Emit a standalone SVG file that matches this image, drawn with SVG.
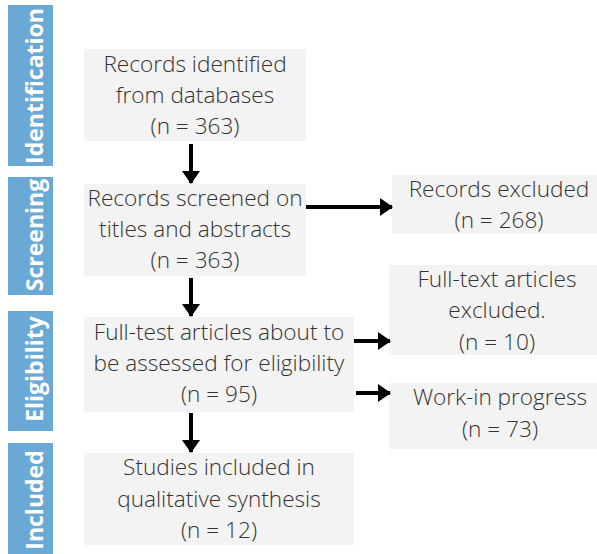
<svg xmlns="http://www.w3.org/2000/svg" width="597" height="554" viewBox="0 0 597 554">
<style>
.lab{fill:#6aa8d6}
.lt{font-family:"Open Sans","Liberation Sans",sans-serif;font-weight:700;font-size:23px;fill:#ffffff;text-anchor:middle}
.box{fill:#f3f3f3}
.t{font-family:"Open Sans","Liberation Sans",sans-serif;font-weight:300;font-size:22.6px;fill:#333333;text-anchor:middle}
.c{stroke:#000;stroke-width:4;fill:none}
</style>
<defs>
<marker id="ah" markerUnits="userSpaceOnUse" markerWidth="13" markerHeight="18" refX="12" refY="9" orient="auto">
<path d="M0,0 L13,9 L0,18 Z" fill="#000"/>
</marker>
</defs>
<g id="stages">
<g id="stage-identification"><rect class="lab" x="8" y="5" width="45" height="161"/><text class="lt" x="43" y="86" transform="rotate(-90 43 86)">Identification</text></g>
<g id="stage-screening"><rect class="lab" x="8" y="177" width="45" height="118"/><text class="lt" x="43" y="235" transform="rotate(-90 43 235)">Screening</text></g>
<g id="stage-eligibility"><rect class="lab" x="8" y="311" width="45" height="120"/><text class="lt" x="43" y="369" transform="rotate(-90 43 369)">Eligibility</text></g>
<g id="stage-included"><rect class="lab" x="8" y="443" width="45" height="111"/><text class="lt" x="43" y="500" transform="rotate(-90 43 500)">Included</text></g>
</g>
<g id="identified"><rect class="box" x="84" y="49" width="222" height="92"/>
<text class="t" x="195" y="72">Records identified</text><text class="t" x="195" y="103">from databases</text><text class="t" x="195" y="134">(n = 363)</text></g>
<g id="screened"><rect class="box" x="84" y="184" width="222" height="92"/>
<text class="t" x="195" y="206">Records screened on</text><text class="t" x="195" y="237">titles and abstracts</text><text class="t" x="195" y="268">(n = 363)</text></g>
<g id="assessed"><rect class="box" x="84" y="317" width="270" height="95"/>
<text class="t" x="219" y="340">Full-test articles about to</text><text class="t" x="219" y="371">be assessed for eligibility</text><text class="t" x="219" y="402">(n = 95)</text></g>
<g id="included"><rect class="box" x="84" y="453" width="270" height="92"/>
<text class="t" x="219" y="475">Studies included in</text><text class="t" x="219" y="507">qualitative synthesis</text><text class="t" x="219" y="538">(n = 12)</text></g>
<g id="excluded"><rect class="box" x="392" y="175" width="205" height="59"/>
<text class="t" x="499" y="197">Records excluded</text><text class="t" x="499" y="228">(n = 268)</text></g>
<g id="fulltext-excluded"><rect class="box" x="389" y="265" width="208" height="90"/>
<text class="t" x="497" y="287">Full-text articles</text><text class="t" x="497" y="318">excluded.</text><text class="t" x="497" y="350">(n = 10)</text></g>
<g id="wip"><rect class="box" x="389" y="383" width="208" height="66"/>
<text class="t" x="500" y="405">Work-in progress</text><text class="t" x="500" y="437">(n = 73)</text></g>
<g id="connectors">
<line class="c" x1="191" y1="144" x2="191" y2="183" marker-end="url(#ah)"/>
<line class="c" x1="191" y1="278" x2="191" y2="316" marker-end="url(#ah)"/>
<line class="c" x1="191" y1="413" x2="191" y2="452" marker-end="url(#ah)"/>
<line class="c" x1="306" y1="207" x2="392" y2="207" marker-end="url(#ah)"/>
<line class="c" x1="354" y1="341" x2="390" y2="341" marker-end="url(#ah)"/>
<line class="c" x1="356" y1="393" x2="390" y2="393" marker-end="url(#ah)"/>
</g>
</svg>
